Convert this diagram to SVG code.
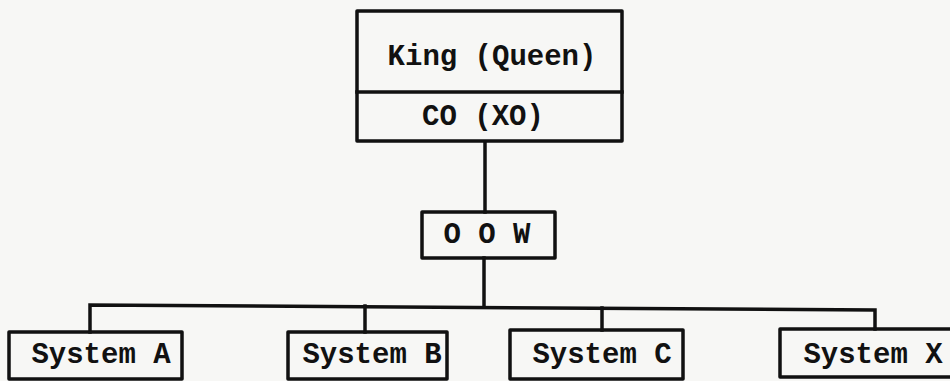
<svg xmlns="http://www.w3.org/2000/svg" width="950" height="381" viewBox="0 0 950 381">
<style>
.box{fill:none;stroke:#111;stroke-width:3.5;stroke-linejoin:round}
.ln{fill:none;stroke:#111;stroke-width:3.5;stroke-linecap:square}
.t{font-family:"Liberation Mono","DejaVu Sans Mono",monospace;font-weight:bold;font-size:29px;fill:#111;text-anchor:middle}
</style>
<rect width="950" height="381" fill="#f7f7f5"/>
<g id="connectors">
<path class="ln" d="M485,142 V212"/>
<path class="ln" d="M484,258 V307"/>
<path class="ln" d="M90,332 V305 L875,310 V329"/>
<path class="ln" d="M365,306 V332"/>
<path class="ln" d="M602,308 V330"/>
</g>
<g id="king">
<rect class="box" x="357" y="11" width="265" height="130"/>
<path class="ln" d="M357,92 H622"/>
<text class="t" x="492" y="65">King (Queen)</text>
<text class="t" x="483" y="125">CO (XO)</text>
</g>
<g id="oow">
<rect class="box" x="422" y="212" width="133" height="46"/>
<text class="t" x="487" y="243">O O W</text>
</g>
<g id="sysA">
<rect class="box" x="9" y="332" width="173" height="47"/>
<text class="t" x="101" y="363">System A</text>
</g>
<g id="sysB">
<rect class="box" x="288" y="332" width="159" height="47"/>
<text class="t" x="372" y="363">System B</text>
</g>
<g id="sysC">
<rect class="box" x="510" y="330" width="173" height="49"/>
<text class="t" x="602" y="363">System C</text>
</g>
<g id="sysX">
<rect class="box" x="780" y="329" width="200" height="48"/>
<text class="t" x="873" y="363">System X</text>
</g>
</svg>
